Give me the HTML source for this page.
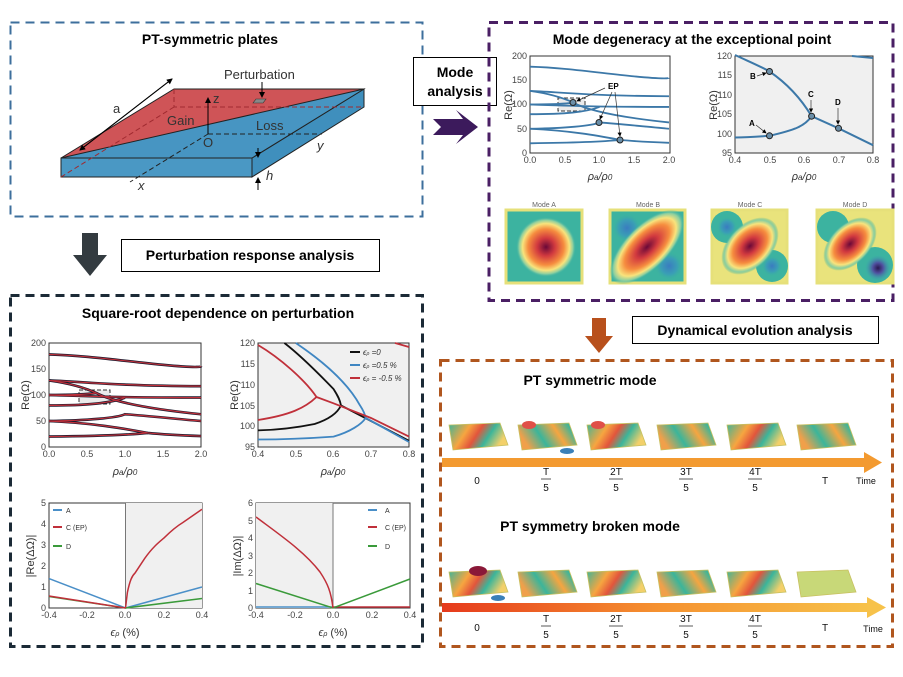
<!DOCTYPE html>
<html><head><meta charset="utf-8"><style>
html,body{margin:0;padding:0;background:#fff;}
svg{display:block;font-family:"Liberation Sans",sans-serif;}
.t{font-weight:bold;font-size:14px;text-anchor:middle;fill:#000}
.tk{font-size:9px;fill:#444}
.tm{text-anchor:middle}
.te{text-anchor:end}
.lab{font-size:11px;fill:#333}
.c path{fill:none;vector-effect:non-scaling-stroke}
</style></head><body>
<svg width="903" height="677" viewBox="0 0 903 677" xmlns="http://www.w3.org/2000/svg">
<defs>
<g id="curves" class="c">
<path d="M0 178 C50 176 100 165 150 158 S200 155 200 155"/>
<path d="M0 128 C40 126 80 118 200 117"/>
<path d="M0 128 C30 122 50 112 62 104 C80 90 120 75 200 63"/>
<path d="M0 100 C30 100 50 101 62 104"/>
<path d="M0 100 C60 97 100 95 200 95"/>
<path d="M0 80 C50 80 80 84 100 95"/>
<path d="M0 50 C50 51 90 56 100 63 C130 60 160 55 200 50"/>
<path d="M0 50 C60 46 100 35 130 27 C150 24 180 22 200 21"/>
<path d="M0 20 C60 21 110 24 130 27"/>
</g>
<radialGradient id="gA" cx="0.5" cy="0.5" r="0.5">
<stop offset="0" stop-color="#6a0838"/><stop offset="0.3" stop-color="#d23a3f"/><stop offset="0.6" stop-color="#f68d3f"/><stop offset="0.78" stop-color="#f9e37c"/><stop offset="0.9" stop-color="#8ccf9f"/><stop offset="1" stop-color="#3bb0a0" stop-opacity="0"/>
</radialGradient>
<radialGradient id="gBl" cx="0.5" cy="0.5" r="0.5">
<stop offset="0" stop-color="#3a7cc0"/><stop offset="0.6" stop-color="#3a9fb5"/><stop offset="1" stop-color="#3ab0a0" stop-opacity="0"/>
</radialGradient>
<radialGradient id="gPu" cx="0.5" cy="0.5" r="0.5">
<stop offset="0" stop-color="#2a1850"/><stop offset="0.4" stop-color="#5050a0"/><stop offset="1" stop-color="#3a9fb5" stop-opacity="0"/>
</radialGradient>
<linearGradient id="pl1" x1="0" y1="0" x2="1" y2="0.3">
<stop offset="0" stop-color="#3bb59a"/><stop offset="0.35" stop-color="#f6a540"/><stop offset="0.55" stop-color="#e2553c"/><stop offset="0.75" stop-color="#3bb59a"/><stop offset="1" stop-color="#f3d06a"/>
</linearGradient>
<linearGradient id="pl2" x1="0" y1="0.3" x2="1" y2="0">
<stop offset="0" stop-color="#f0a04a"/><stop offset="0.3" stop-color="#3bb59a"/><stop offset="0.6" stop-color="#f6a540"/><stop offset="0.85" stop-color="#3bb59a"/><stop offset="1" stop-color="#f2c65a"/>
</linearGradient>
<linearGradient id="arr2" x1="0" y1="0" x2="1" y2="0">
<stop offset="0" stop-color="#e63a1c"/><stop offset="0.5" stop-color="#f59130"/><stop offset="1" stop-color="#f7c24a"/>
</linearGradient>
<marker id="ah" markerWidth="6" markerHeight="6" refX="5" refY="3" orient="auto"><path d="M0 0 L6 3 L0 6z" fill="#000"/></marker>
</defs>

<!-- Box 1 -->
<rect x="10.5" y="22.5" width="412" height="194" fill="none" stroke="#3d6f9c" stroke-width="2" stroke-dasharray="9,6"/>
<text class="t" x="210" y="44">PT-symmetric plates</text>
<polygon points="61,158 252,158 252,177 61,177" fill="#4a98c4" stroke="#222" stroke-width="1"/>
<polygon points="252,158 364,89 364,107 252,177" fill="#3f8fbd" stroke="#222" stroke-width="1"/>
<polygon points="61,158 174,89 364,89" fill="#cf5457"/>
<polygon points="61,158 364,89 252,158" fill="#4795c2"/>
<polyline points="61,158 174,89 364,89 252,158 61,158" fill="none" stroke="#222" stroke-width="1"/>
<line x1="61" y1="158" x2="364" y2="89" stroke="#222" stroke-width="1"/>
<path d="M174 89 L174 107 L364 107 M174 107 L61 177" stroke="#a02a30" stroke-dasharray="5,3" fill="none"/>
<path d="M208 134 L322 134 M208 134 L130 182" stroke="#222" stroke-dasharray="5,3" fill="none"/>
<line x1="208" y1="134" x2="208" y2="98" stroke="#000" marker-end="url(#ah)"/>
<line x1="80" y1="150" x2="172" y2="79" stroke="#000" marker-end="url(#ah)"/>
<line x1="172" y1="79" x2="80" y2="150" stroke="#000" marker-end="url(#ah)"/>
<polygon points="256,99 266,99 263,103 253,103" fill="#888" stroke="#333" stroke-width="0.6"/>
<line x1="262" y1="82" x2="262" y2="97" stroke="#000" marker-end="url(#ah)"/>
<line x1="258" y1="148" x2="258" y2="157" stroke="#000" marker-end="url(#ah)"/>
<line x1="258" y1="190" x2="258" y2="178" stroke="#000" marker-end="url(#ah)"/>
<text x="224" y="79" style="font-size:13px;fill:#333">Perturbation</text>
<text x="167" y="125" style="font-size:13px;fill:#333">Gain</text>
<text x="256" y="130" style="font-size:13px;fill:#333">Loss</text>
<text x="113" y="113" style="font-size:13px;fill:#333">a</text>
<text x="213" y="103" style="font-size:13px;fill:#333">z</text>
<text x="203" y="147" style="font-size:13px;fill:#333">O</text>
<text x="317" y="150" style="font-size:13px;fill:#333;font-style:italic">y</text>
<text x="138" y="190" style="font-size:13px;fill:#333;font-style:italic">x</text>
<text x="266" y="180" style="font-size:13px;fill:#333;font-style:italic">h</text>

<!-- Mode analysis -->
<rect x="413.5" y="57.5" width="83" height="48" fill="#fff" stroke="#000"/>
<text class="t" x="455" y="77">Mode</text>
<text class="t" x="455" y="96">analysis</text>
<polygon points="433,119 463,119 456,110 478,127 456,144 463,135 433,135 441,127" fill="#3c1a5c"/>
<!-- Down arrow dark -->
<polygon points="82,233 98,233 98,255 107,255 90,276 73,255 82,255" fill="#333b40"/>
<rect x="121.5" y="239.5" width="258" height="32" fill="#fff" stroke="#000"/>
<text class="t" x="250" y="260">Perturbation response analysis</text>

<!-- Box 2 -->
<rect x="489" y="22.5" width="404" height="278" fill="none" stroke="#4a1f64" stroke-width="3" stroke-dasharray="9,6"/>
<text class="t" x="692" y="44">Mode degeneracy at the exceptional point</text>
<rect x="530" y="56" width="140" height="97" fill="#fff" stroke="#333"/>
<rect x="558" y="98" width="27" height="13" fill="#ebebeb" stroke="#333" stroke-dasharray="4,2"/>
<use href="#curves" transform="translate(530,153) scale(0.695,-0.485)" stroke="#3c78a8" stroke-width="1.8"/>
<circle cx="573" cy="102.5" r="3" fill="#6a8ea8" stroke="#222"/>
<circle cx="599" cy="122.5" r="3" fill="#6a8ea8" stroke="#222"/>
<circle cx="620" cy="140" r="3" fill="#6a8ea8" stroke="#222"/>
<text x="608" y="89" style="font-size:8px;font-weight:bold">EP</text>
<line x1="605" y1="88" x2="577" y2="101" stroke="#333" stroke-width="0.7" marker-end="url(#ah)"/>
<line x1="612" y1="92" x2="600" y2="119" stroke="#333" stroke-width="0.7" marker-end="url(#ah)"/>
<line x1="615" y1="92" x2="620" y2="136" stroke="#333" stroke-width="0.7" marker-end="url(#ah)"/>
<g class="tk te"><text x="527" y="59">200</text><text x="527" y="83">150</text><text x="527" y="107">100</text><text x="527" y="132">50</text><text x="527" y="156">0</text></g>
<g class="tk tm"><text x="530" y="163">0.0</text><text x="565" y="163">0.5</text><text x="599" y="163">1.0</text><text x="634" y="163">1.5</text><text x="669" y="163">2.0</text></g>
<text class="lab" x="600" y="180" text-anchor="middle" font-style="italic">ρ<tspan font-size="8">a</tspan>/ρ<tspan font-size="8">0</tspan></text>
<text class="lab" transform="translate(512,105) rotate(-90)" text-anchor="middle">Re(Ω)</text>

<rect x="735" y="56" width="138" height="97" fill="#f0f0f0" stroke="#333"/>
<path d="M735 55 C750 62 762 67 769.5 71.5 C785 82 800 97 811.6 116.2 C805 126 795 130 769.5 135.8 C755 137 745 137.5 735 137.5 M811.6 116.2 L838.5 128.3 L873 145.2 M852 56 L873 58" stroke="#3c78a8" stroke-width="2" fill="none"/>
<g fill="#6a8ea8" stroke="#222"><circle cx="769.5" cy="135.8" r="3"/><circle cx="769.5" cy="71.5" r="3"/><circle cx="811.6" cy="116.2" r="3"/><circle cx="838.5" cy="128.3" r="3"/></g>
<g style="font-size:8px;font-weight:bold"><text x="749" y="126">A</text><text x="750" y="79">B</text><text x="808" y="97">C</text><text x="835" y="105">D</text></g>
<line x1="756" y1="125" x2="766" y2="133" stroke="#333" stroke-width="0.7" marker-end="url(#ah)"/>
<line x1="757" y1="76" x2="766" y2="73" stroke="#333" stroke-width="0.7" marker-end="url(#ah)"/>
<line x1="811" y1="100" x2="811" y2="112" stroke="#333" stroke-width="0.7" marker-end="url(#ah)"/>
<line x1="838" y1="108" x2="838" y2="124" stroke="#333" stroke-width="0.7" marker-end="url(#ah)"/>
<g class="tk te"><text x="732" y="59">120</text><text x="732" y="78">115</text><text x="732" y="98">110</text><text x="732" y="117">105</text><text x="732" y="137">100</text><text x="732" y="156">95</text></g>
<g class="tk tm"><text x="735" y="163">0.4</text><text x="770" y="163">0.5</text><text x="804" y="163">0.6</text><text x="839" y="163">0.7</text><text x="873" y="163">0.8</text></g>
<text class="lab" x="804" y="180" text-anchor="middle" font-style="italic">ρ<tspan font-size="8">a</tspan>/ρ<tspan font-size="8">0</tspan></text>
<text class="lab" transform="translate(717,105) rotate(-90)" text-anchor="middle">Re(Ω)</text>

<!-- Mode images -->
<g style="font-size:7px;fill:#666" text-anchor="middle"><text x="544" y="207">Mode A</text><text x="648" y="207">Mode B</text><text x="750" y="207">Mode C</text><text x="855" y="207">Mode D</text></g>
<g>
<rect x="506" y="210" width="76" height="73" fill="#3cb3a0" stroke="#e6e07a" stroke-width="3"/>
<circle cx="546" cy="247" r="30" fill="url(#gA)"/>
</g>
<g>
<rect x="610" y="210" width="75" height="73" fill="#3cb3a0" stroke="#e6e07a" stroke-width="3"/>
<circle cx="627" cy="228" r="14" fill="url(#gBl)"/><circle cx="669" cy="266" r="14" fill="url(#gBl)"/>
<ellipse cx="647" cy="247" rx="48" ry="22" transform="rotate(-45 647 247)" fill="url(#gA)"/>
</g>
<g>
<rect x="712" y="210" width="75" height="73" fill="#e9e37c" stroke="#e6e07a" stroke-width="3"/>
<circle cx="727" cy="227" r="16" fill="#3cb3a0"/><circle cx="772" cy="266" r="16" fill="#3cb3a0"/>
<circle cx="727" cy="227" r="10" fill="url(#gBl)"/><circle cx="772" cy="266" r="10" fill="url(#gBl)"/>
<ellipse cx="750" cy="246" rx="34" ry="22" transform="rotate(-45 750 246)" fill="url(#gA)"/>
</g>
<g>
<rect x="817" y="210" width="76" height="73" fill="#e9e37c" stroke="#e6e07a" stroke-width="3"/>
<circle cx="833" cy="227" r="16" fill="#3cb3a0"/><circle cx="875" cy="265" r="18" fill="#3cb3a0"/>
<circle cx="878" cy="268" r="13" fill="url(#gPu)"/>
<ellipse cx="850" cy="244" rx="32" ry="20" transform="rotate(-45 850 244)" fill="url(#gA)"/>
</g>

<!-- Box 3 -->
<rect x="10.5" y="295.5" width="412" height="351" fill="none" stroke="#1b2a36" stroke-width="3" stroke-dasharray="9,6"/>
<text class="t" x="218" y="318">Square-root dependence on perturbation</text>
<rect x="49" y="343" width="152" height="104" fill="#fff" stroke="#333"/>
<rect x="79" y="390" width="31" height="14" fill="#ebebeb" stroke="#333" stroke-dasharray="4,2"/>
<use href="#curves" transform="translate(49,447) scale(0.76,-0.52)" stroke="#1a1a2e" stroke-width="2.6"/>
<use href="#curves" transform="translate(49,447) scale(0.76,-0.52)" stroke="#c0303a" stroke-width="1.2"/>
<g class="tk te"><text x="46" y="346">200</text><text x="46" y="372">150</text><text x="46" y="398">100</text><text x="46" y="424">50</text><text x="46" y="450">0</text></g>
<g class="tk tm"><text x="49" y="457">0.0</text><text x="87" y="457">0.5</text><text x="125" y="457">1.0</text><text x="163" y="457">1.5</text><text x="201" y="457">2.0</text></g>
<text class="lab" x="125" y="475" text-anchor="middle" font-style="italic">ρ<tspan font-size="8">a</tspan>/ρ<tspan font-size="8">0</tspan></text>
<text class="lab" transform="translate(29,395) rotate(-90)" text-anchor="middle">Re(Ω)</text>

<rect x="258" y="343" width="151" height="104" fill="#f0f0f0" stroke="#333"/>
<g fill="none" stroke-width="1.8">
<path d="M284.4 343 C300 355 320 375 333.5 389 C338 396 340 400 341 405.4 C338 412 330 419 314.6 424 C295 428 275 430 258 430.4 M341 405.4 L409 440.8" stroke="#111"/>
<path d="M295.8 343 C315 356 345 378 360 405.4 C363 410 365 414 365.6 417.9 C362 424 350 432 333.5 436.6 C300 439 275 439.5 258 439.5 M365.6 417.9 L371 420.8 L409 442" stroke="#3f86c2"/>
<path d="M258 345 C280 358 305 380 316.5 397 C305 408 290 415 258 420 M316.5 397 L333.5 403.3 L371 418 L409 436.6 M395 343 L409 347" stroke="#c0303a"/>
</g>
<g style="font-size:8px;fill:#333;font-style:italic"><line x1="350" y1="352" x2="360" y2="352" stroke="#111" stroke-width="2"/><text x="363" y="355">ϵ<tspan font-size="5">ρ</tspan> =0</text>
<line x1="350" y1="365" x2="360" y2="365" stroke="#3f86c2" stroke-width="2"/><text x="363" y="368">ϵ<tspan font-size="5">ρ</tspan> =0.5 %</text>
<line x1="350" y1="378" x2="360" y2="378" stroke="#c0303a" stroke-width="2"/><text x="363" y="381">ϵ<tspan font-size="5">ρ</tspan> = -0.5 %</text></g>
<g class="tk te"><text x="255" y="346">120</text><text x="255" y="367">115</text><text x="255" y="388">110</text><text x="255" y="409">105</text><text x="255" y="429">100</text><text x="255" y="450">95</text></g>
<g class="tk tm"><text x="258" y="457">0.4</text><text x="296" y="457">0.5</text><text x="333" y="457">0.6</text><text x="371" y="457">0.7</text><text x="409" y="457">0.8</text></g>
<text class="lab" x="333" y="475" text-anchor="middle" font-style="italic">ρ<tspan font-size="8">a</tspan>/ρ<tspan font-size="8">0</tspan></text>
<text class="lab" transform="translate(238,395) rotate(-90)" text-anchor="middle">Re(Ω)</text>

<!-- delta plots -->
<rect x="49" y="503" width="153" height="105" fill="#fff" stroke="#333"/>
<rect x="125.5" y="503" width="76.5" height="105" fill="#f0f0f0"/>
<line x1="125.5" y1="503" x2="125.5" y2="608" stroke="#777"/>
<g fill="none" stroke-width="1.5">
<path d="M49 578.6 L125.5 608 L202 587" stroke="#4a8fc8"/>
<path d="M49 596.5 L125.5 608 L202 598.5" stroke="#3a9a3a"/>
<path d="M49 596 L125.5 608 M125.5 608 L127.4 592.4 C130 580 132 576 135 573.1 L144.6 558.6 C152 548 158 543 163.75 538.2 C172 530 177 526 182.9 522.5 L202 509.3" stroke="#c0303a"/>
</g>
<g style="font-size:7px;fill:#333"><line x1="53" y1="510" x2="62" y2="510" stroke="#4a8fc8" stroke-width="2"/><text x="66" y="513">A</text>
<line x1="53" y1="527" x2="62" y2="527" stroke="#c0303a" stroke-width="2"/><text x="66" y="530">C (EP)</text>
<line x1="53" y1="546" x2="62" y2="546" stroke="#3a9a3a" stroke-width="2"/><text x="66" y="549">D</text></g>
<g class="tk te"><text x="46" y="506">5</text><text x="46" y="527">4</text><text x="46" y="548">3</text><text x="46" y="569">2</text><text x="46" y="590">1</text><text x="46" y="611">0</text></g>
<g class="tk tm"><text x="49" y="618">-0.4</text><text x="87" y="618">-0.2</text><text x="125" y="618">0.0</text><text x="164" y="618">0.2</text><text x="202" y="618">0.4</text></g>
<text class="lab" x="125" y="636" text-anchor="middle"><tspan font-style="italic">ϵ</tspan><tspan font-size="7" font-style="italic">ρ</tspan> (%)</text>
<text class="lab" transform="translate(34,556) rotate(-90)" text-anchor="middle">|Re(ΔΩ)|</text>

<rect x="256" y="503" width="154" height="105" fill="#fff" stroke="#333"/>
<rect x="256" y="503" width="77" height="105" fill="#f0f0f0"/>
<line x1="333" y1="503" x2="333" y2="608" stroke="#777"/>
<g fill="none" stroke-width="1.5">
<path d="M256 607 L333 607" stroke="#4a8fc8"/>
<path d="M333 607 L410 607" stroke="#c0303a"/>
<path d="M256 583.5 L333 608 L410 579" stroke="#3a9a3a"/>
<path d="M256 517 C280 535 305 552 320 572 C328 584 331 592 333 608" stroke="#c0303a"/>
</g>
<g style="font-size:7px;fill:#333"><line x1="368" y1="510" x2="377" y2="510" stroke="#4a8fc8" stroke-width="2"/><text x="385" y="513">A</text>
<line x1="368" y1="527" x2="377" y2="527" stroke="#c0303a" stroke-width="2"/><text x="385" y="530">C (EP)</text>
<line x1="368" y1="546" x2="377" y2="546" stroke="#3a9a3a" stroke-width="2"/><text x="385" y="549">D</text></g>
<g class="tk te"><text x="253" y="506">6</text><text x="253" y="524">5</text><text x="253" y="541">4</text><text x="253" y="559">3</text><text x="253" y="576">2</text><text x="253" y="594">1</text><text x="253" y="611">0</text></g>
<g class="tk tm"><text x="256" y="618">-0.4</text><text x="295" y="618">-0.2</text><text x="333" y="618">0.0</text><text x="372" y="618">0.2</text><text x="410" y="618">0.4</text></g>
<text class="lab" x="333" y="636" text-anchor="middle"><tspan font-style="italic">ϵ</tspan><tspan font-size="7" font-style="italic">ρ</tspan> (%)</text>
<text class="lab" transform="translate(241,556) rotate(-90)" text-anchor="middle">|Im(ΔΩ)|</text>

<!-- orange down arrow + label -->
<polygon points="592,318 606,318 606,336 613,336 599,353 585,336 592,336" fill="#b8501c"/>
<rect x="632.5" y="316.5" width="246" height="27" fill="#fff" stroke="#000"/>
<text class="t" x="755" y="335">Dynamical evolution analysis</text>

<!-- Box 4 -->
<rect x="440.5" y="360.5" width="452" height="286" fill="none" stroke="#b0561e" stroke-width="3" stroke-dasharray="9,6"/>
<text class="t" x="590" y="385">PT symmetric mode</text>
<g stroke="#c8c060" stroke-width="0.8">
<polygon points="449,425 500,423 508,445 453,450" fill="url(#pl1)"/>
<polygon points="518,425 569,423 577,445 522,450" fill="url(#pl2)"/>
<polygon points="587,425 638,423 646,445 591,450" fill="url(#pl1)"/>
<polygon points="657,425 708,423 716,445 661,450" fill="url(#pl2)"/>
<polygon points="727,425 778,423 786,445 731,450" fill="url(#pl1)"/>
<polygon points="797,425 848,423 856,445 801,450" fill="url(#pl2)"/>
</g>
<g fill="#e05048"><ellipse cx="529" cy="425" rx="7" ry="4"/><ellipse cx="598" cy="425" rx="7" ry="4"/></g>
<g fill="#3a80b8"><ellipse cx="567" cy="451" rx="7" ry="3"/></g>
<rect x="442" y="458" width="426" height="9" fill="#f39a30"/>
<polygon points="864,452 882,462.5 864,473" fill="#f39a30"/>
<g style="font-size:10px;fill:#111" text-anchor="middle">
<text x="477" y="484">0</text>
<text x="546" y="475">T</text><line x1="541" y1="479" x2="551" y2="479" stroke="#111" stroke-width="0.7"/><text x="546" y="491">5</text>
<text x="616" y="475">2T</text><line x1="609" y1="479" x2="623" y2="479" stroke="#111" stroke-width="0.7"/><text x="616" y="491">5</text>
<text x="686" y="475">3T</text><line x1="679" y1="479" x2="693" y2="479" stroke="#111" stroke-width="0.7"/><text x="686" y="491">5</text>
<text x="755" y="475">4T</text><line x1="748" y1="479" x2="762" y2="479" stroke="#111" stroke-width="0.7"/><text x="755" y="491">5</text>
<text x="825" y="484">T</text>
<text x="866" y="484" style="font-size:9px">Time</text>
</g>
<text class="t" x="590" y="531">PT symmetry broken mode</text>
<g stroke="#c8c060" stroke-width="0.8">
<polygon points="449,572 500,570 508,592 453,597" fill="url(#pl1)"/>
<polygon points="518,572 569,570 577,592 522,597" fill="url(#pl2)"/>
<polygon points="587,572 638,570 646,592 591,597" fill="url(#pl1)"/>
<polygon points="657,572 708,570 716,592 661,597" fill="url(#pl2)"/>
<polygon points="727,572 778,570 786,592 731,597" fill="url(#pl1)"/>
<polygon points="797,572 848,570 856,592 801,597" fill="#c8d878"/>
</g>
<ellipse cx="478" cy="571" rx="9" ry="5" fill="#8a1838"/>
<ellipse cx="498" cy="598" rx="7" ry="3" fill="#3a80b8"/>
<rect x="442" y="603" width="428" height="9" fill="url(#arr2)"/>
<polygon points="867,597 886,607.5 867,618" fill="#f7c24a"/>
<g style="font-size:10px;fill:#111" text-anchor="middle">
<text x="477" y="631">0</text>
<text x="546" y="622">T</text><line x1="541" y1="626" x2="551" y2="626" stroke="#111" stroke-width="0.7"/><text x="546" y="638">5</text>
<text x="616" y="622">2T</text><line x1="609" y1="626" x2="623" y2="626" stroke="#111" stroke-width="0.7"/><text x="616" y="638">5</text>
<text x="686" y="622">3T</text><line x1="679" y1="626" x2="693" y2="626" stroke="#111" stroke-width="0.7"/><text x="686" y="638">5</text>
<text x="755" y="622">4T</text><line x1="748" y1="626" x2="762" y2="626" stroke="#111" stroke-width="0.7"/><text x="755" y="638">5</text>
<text x="825" y="631">T</text>
<text x="873" y="632" style="font-size:9px">Time</text>
</g>
</svg>
</body></html>
